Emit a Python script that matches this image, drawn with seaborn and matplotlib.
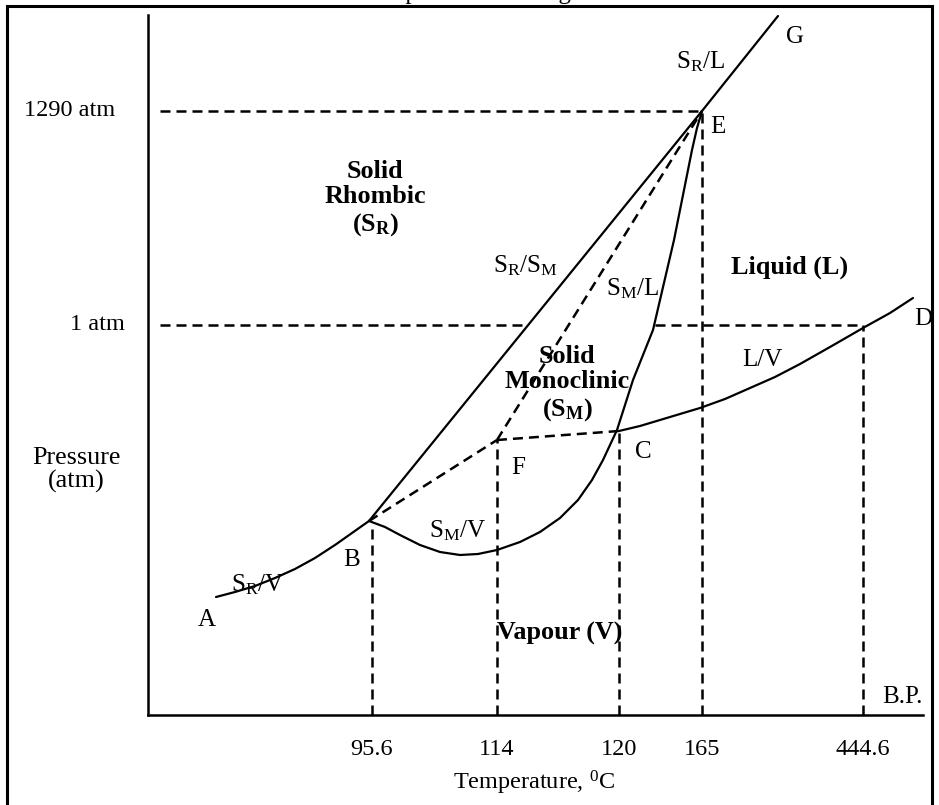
import matplotlib
matplotlib.use("Agg")
import matplotlib.pyplot as plt
import seaborn as sns
import pandas as pd
from matplotlib.patches import Rectangle

# schematic coordinates (arbitrary units, not to scale)
sr_v_x = [68, 87, 107, 127, 147, 167, 187, 204, 221]
sr_v_y = [118, 123, 129, 137, 146, 157, 170, 182, 194]

sr_sm_x = [221, 554]
sr_sm_y = [194, 604]

sr_l_x = [554, 630]
sr_l_y = [604, 699]

# S_M/V from B down through the minimum to C, then S_M/L up to E
sm_x = [221, 237, 252, 272, 292, 312, 330, 349, 372, 392, 412, 430, 444, 455,
        469, 477, 485, 495, 505, 512, 519, 526, 532, 538, 544, 549, 554]
sm_y = [194, 188, 180, 170, 163, 160, 161, 165, 173, 183, 197, 215, 235, 255,
        285, 310, 335, 360, 385, 415, 445, 475, 505, 535, 565, 587, 604]

lv_x = [471, 492, 512, 532, 552, 577, 602, 627, 652, 682, 715, 742, 765]
lv_y = [284, 289, 295, 301, 307, 316, 327, 338, 351, 368, 387, 402, 417]

# metastable (dashed) lines B-F, F-C, F-E
meta_lines = {
    "BF": ([221, 349], [194, 275]),
    "FC": ([349, 471], [275, 284]),
    "FE": ([349, 554], [275, 604]),
}

p_1290 = 604
p_1atm = 390
temp_pos = [224, 349, 471, 554, 715]
temp_labels = ["95.6", "114", "120", "165", "444.6"]
temp_tops = [190, 275, 284, 604, 390]

sns.set_theme(style="white")
plt.rcParams["font.family"] = ["Liberation Serif", "DejaVu Serif"]
plt.rcParams["mathtext.fontset"] = "custom"
plt.rcParams["mathtext.rm"] = "Liberation Serif"
plt.rcParams["mathtext.it"] = "Liberation Serif:italic"
plt.rcParams["mathtext.bf"] = "Liberation Serif:bold"
plt.rcParams["text.color"] = "black"
plt.rcParams["xtick.color"] = "black"

fig = plt.figure(figsize=(9.39, 8.05), dpi=100)
ax = fig.add_axes([148 / 939, 90 / 805, 775 / 939, 700 / 805])

solid = dict(color="black", linewidth=1.6)
dash = dict(color="black", linewidth=1.8, linestyle=(0, (4, 2.4)))


def curve(xs, ys, **kw):
    df = pd.DataFrame({"x": xs, "y": ys})
    sns.lineplot(data=df, x="x", y="y", sort=False, estimator=None, ax=ax, **kw)


curve(sr_v_x, sr_v_y, **solid)
curve(sr_sm_x, sr_sm_y, **solid)
curve(sr_l_x, sr_l_y, **solid)
curve(sm_x, sm_y, **solid)
curve(lv_x, lv_y, **solid)
for xs, ys in meta_lines.values():
    curve(xs, ys, **dash)

# reference dashed lines
ax.plot([12, 554], [p_1290, p_1290], **dash)
ax.plot([12, 374], [p_1atm, p_1atm], **dash)
ax.plot([507, 715], [p_1atm, p_1atm], **dash)
for xp, top in zip(temp_pos, temp_tops):
    ax.plot([xp, xp], [0, top], **dash)

ax.set_xlim(0, 775)
ax.set_ylim(0, 700)
ax.set_xticks(temp_pos)
ax.set_xticklabels(temp_labels, fontsize=17.5)
ax.set_yticks([])
ax.tick_params(axis="x", length=0, pad=17)
ax.set_xlabel("")
ax.set_ylabel("")
for s in ["top", "right"]:
    ax.spines[s].set_visible(False)
for s in ["left", "bottom"]:
    ax.spines[s].set_color("black")
    ax.spines[s].set_linewidth(1.8)

fs = 18
txt = dict(fontsize=fs, ha="center", va="center", clip_on=False)
bold = dict(txt, fontweight="bold", fontsize=18.8)

ax.text(-78, p_1290, "1290 atm", **dict(txt, fontsize=17.5))
ax.text(-51, p_1atm, "1 atm", **dict(txt, fontsize=17.5))
ax.text(-72, 245, "Pressure\n(atm)", linespacing=1.05, **dict(txt, fontsize=18.8))
ax.text(386, -68, r"Temperature, $^{0}$C", **dict(txt, fontsize=17.5))

ax.text(227, 516, "Solid\nRhombic\n" + r"($\mathbf{S_R}$)", linespacing=1.15, **bold)
ax.text(419, 331, "Solid\nMonoclinic\n" + r"($\mathbf{S_M}$)", linespacing=1.15, **bold)
ax.text(642, 448, "Liquid (L)", **bold)
ax.text(412, 82, "Vapour (V)", **bold)

ax.text(553, 653, r"S$_{\mathrm{R}}$/L", **txt)
ax.text(377, 449, r"S$_{\mathrm{R}}$/S$_{\mathrm{M}}$", **txt)
ax.text(484, 426, r"S$_{\mathrm{M}}$/L", **txt)
ax.text(614, 355, "L/V", **txt)
ax.text(310, 184, r"S$_{\mathrm{M}}$/V", **txt)
ax.text(110, 130, r"S$_{\mathrm{R}}$/V", **txt)

for lab, (lx, ly) in {"G": (647, 678), "E": (570, 588), "D": (775, 396),
                      "C": (495, 263), "F": (370, 247), "B": (204, 155),
                      "A": (59, 95), "B.P.": (754, 18)}.items():
    ax.text(lx, ly, lab, **txt)

# outer frame and clipped title
fig.patches.append(Rectangle((7 / 939, -0.02), 925 / 939, 1.02 - 6 / 805,
                             transform=fig.transFigure, fill=False,
                             edgecolor="black", linewidth=2.2))
fig.text(0.523, 1 + 1 / 805, "Sulphur Phase Diagram", fontsize=fs,
         ha="center", va="baseline", color="black")

fig.savefig("out.png", dpi=100)
